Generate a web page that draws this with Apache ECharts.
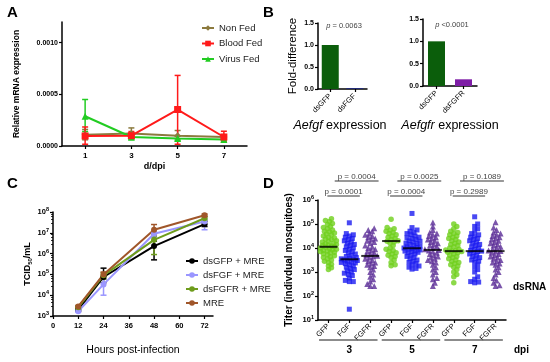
<!DOCTYPE html>
<html><head><meta charset="utf-8">
<script src="https://cdn.jsdelivr.net/npm/echarts@6/dist/echarts.min.js"></script>
<style>html,body{margin:0;padding:0;background:#fff}#c{width:550px;height:362px}</style>
</head><body><div id="c"></div>
<script>
const FONT = '"Liberation Sans", Arial, sans-serif';

// ---------- Panel A data ----------
const aDays = [1, 3, 5, 7];
const aDayTicks = [1, 3, 5, 7];
const aYTicks = [0, 0.0005, 0.0010];
const aNonFed   = [0.000110, 0.000120, 0.000100, 0.000087];
const aNonFedLo = [0.000060, 0.000080, 0.000070, 0.000070];
const aNonFedHi = [0.000160, 0.000175, 0.000150, 0.000110];
const aBlood    = [0.000097, 0.000100, 0.000353, 0.000087];
const aBloodLo  = [0.000017, 0.000080, 0.000017, 0.000040];
const aBloodHi  = [0.000184, 0.000140, 0.000683, 0.000143];
const aVirus    = [0.000288, 0.000087, 0.000072, 0.000062];
const aVirusLo  = [0.000140, 0.000060, 0.000055, 0.000052];
const aVirusHi  = [0.000450, 0.000110, 0.000095, 0.000075];

// ---------- Panel B data ----------
const b1Cats = ['dsGFP', 'dsFGF'];
const b1Vals = [1.0, 0.02];
const b2Cats = ['dsGFP', 'dsFGFR'];
const b2Vals = [1.0, 0.15];
const b1P = '0.0063';
const b2P = '<0.0001';

// ---------- Panel C data ----------
const cHours = [12, 24, 48, 72];
const cHourTicks = [0, 12, 24, 36, 48, 60, 72];
const cGFP    = [2.0e3, 7.5e4, 2.3e6, 2.6e7];
const cGFPLo  = [1.7e3, 4.0e4, 5.0e5, 2.0e7];
const cGFPHi  = [2.4e3, 2.0e5, 4.0e6, 3.5e7];
const cFGF    = [1.7e3, 3.3e4, 9.0e6, 3.5e7];
const cFGFLo  = [1.5e3, 1.0e4, 6.0e6, 1.4e7];
const cFGFHi  = [1.9e3, 6.0e4, 1.2e7, 4.5e7];
const cFGFR   = [2.6e3, 9.0e4, 4.6e6, 5.0e7];
const cFGFRLo = [2.3e3, 6.0e4, 9.0e5, 4.0e7];
const cFGFRHi = [2.9e3, 1.2e5, 7.0e6, 6.0e7];
const cMRE    = [2.9e3, 1.0e5, 1.4e7, 7.0e7];
const cMRELo  = [2.6e3, 8.0e4, 8.0e6, 6.0e7];
const cMREHi  = [3.2e3, 1.3e5, 2.5e7, 8.0e7];

// ---------- Panel D data (log10 titer per mosquito) ----------
const dCats = ['GFP', 'FGF', 'FGFR', 'GFP', 'FGF', 'FGFR', 'GFP', 'FGF', 'FGFR'];
const dDpi = ['3', '5', '7'];
const dGFP3 = [5.22,5.15,5.1,5.02,4.98,4.9,4.85,4.8,4.75,4.7,4.68,4.62,4.58,4.55,4.5,4.45,4.42,4.38,4.35,4.3,4.28,4.25,4.2,4.18,4.15,4.12,4.1,4.08,4.05,4.03,4.0,3.98,3.95,3.93,3.9,3.88,3.85,3.82,3.8,3.76,3.72,3.68,3.64,3.6,3.55,3.5,3.45,3.4,3.32,3.25,3.18,3.1];
const dFGF3 = [5.05,4.6,4.55,4.5,4.45,4.4,4.35,4.3,4.25,4.2,4.15,4.1,4.05,4.0,3.95,3.9,3.85,3.8,3.75,3.7,3.65,3.6,3.58,3.55,3.53,3.5,3.48,3.45,3.42,3.4,3.38,3.35,3.3,3.25,3.2,3.15,3.1,3.05,3.0,2.95,2.9,2.85,2.75,2.65,2.6,2.6,1.45];
const dFGFR3 = [4.82,4.75,4.7,4.6,4.55,4.5,4.45,4.4,4.35,4.3,4.25,4.2,4.1,4.05,4.0,3.95,3.9,3.85,3.8,3.75,3.7,3.68,3.65,3.6,3.55,3.5,3.45,3.4,3.35,3.3,3.25,3.2,3.1,3.0,2.9,2.8,2.7,2.6,2.5,2.42,2.42];
const dGFP5 = [5.2,4.85,4.8,4.75,4.7,4.65,4.6,4.55,4.5,4.45,4.4,4.35,4.3,4.28,4.25,4.2,4.1,4.0,3.95,3.9,3.85,3.8,3.75,3.7,3.65,3.6,3.5,3.4,3.3,3.26];
const dFGF5 = [5.44,4.85,4.75,4.7,4.65,4.6,4.55,4.5,4.45,4.42,4.4,4.35,4.3,4.28,4.25,4.2,4.18,4.15,4.1,4.08,4.05,4.02,4.0,3.98,3.95,3.92,3.9,3.87,3.85,3.82,3.8,3.75,3.7,3.65,3.6,3.55,3.5,3.45,3.4,3.35,3.3,3.25,3.2,3.15,3.12];
const dFGFR5 = [5.06,4.9,4.75,4.65,4.6,4.55,4.5,4.45,4.4,4.35,4.3,4.25,4.2,4.15,4.1,4.05,4.0,3.95,3.92,3.9,3.85,3.8,3.75,3.7,3.65,3.6,3.55,3.5,3.45,3.4,3.3,3.2,3.1,3.0,2.9,2.75,2.7,2.55,2.42];
const dGFP7 = [5.0,4.9,4.8,4.7,4.65,4.6,4.55,4.5,4.45,4.4,4.35,4.3,4.25,4.2,4.15,4.1,4.05,4.0,3.95,3.92,3.9,3.87,3.85,3.82,3.8,3.75,3.7,3.65,3.6,3.55,3.5,3.45,3.4,3.35,3.3,3.25,3.2,3.1,3.0,2.9,2.8,2.55];
const dFGF7 = [5.3,5.0,4.9,4.8,4.7,4.6,4.55,4.5,4.45,4.4,4.35,4.3,4.25,4.2,4.15,4.1,4.05,4.0,3.95,3.9,3.87,3.85,3.8,3.75,3.7,3.65,3.6,3.55,3.5,3.45,3.4,3.3,3.2,3.1,3.0,2.8,2.7,2.6,2.58,2.55];
const dFGFR7 = [5.07,4.85,4.75,4.65,4.6,4.55,4.5,4.45,4.4,4.35,4.3,4.25,4.2,4.15,4.1,4.05,4.0,3.95,3.9,3.87,3.85,3.8,3.75,3.7,3.65,3.6,3.55,3.5,3.45,3.4,3.35,3.3,3.2,3.1,3.0,2.9,2.75,2.65,2.55,2.45,2.42];
const dMedians = [4.05, 3.53, 3.67, 4.29, 3.99, 3.92, 3.87, 3.87, 3.87];
const dPLower = ['0.0001', '0.0004', '0.2989'];
const dPUpper = ['0.0004', '0.0025', '0.1089'];

// ---------- styling helpers ----------
function axisBase(extra) {
  const base = {
    axisLine: {show: true, onZero: false, lineStyle: {color: '#000', width: 1.5}},
    axisTick: {show: true, length: 3, lineStyle: {color: '#000', width: 1.2}},
    splitLine: {show: false},
    axisLabel: {color: '#000', fontFamily: FONT, fontWeight: 'bold', fontSize: 7.5, margin: 4},
    nameTextStyle: {color: '#000', fontFamily: FONT, fontWeight: 'bold', fontSize: 9}
  };
  for (const k in extra) {
    if (base[k] && typeof base[k] === 'object' && typeof extra[k] === 'object' && !Array.isArray(extra[k])) {
      base[k] = Object.assign({}, base[k], extra[k]);
    } else base[k] = extra[k];
  }
  return base;
}
function logLabel(v) {
  const e = Math.round(Math.log10(v));
  return '{b|10}{s|' + e + '}';
}
const logRich = {b: {fontFamily: FONT, fontWeight: 'bold', fontSize: 7.5, color: '#000'},
                 s: {fontFamily: FONT, fontWeight: 'bold', fontSize: 5.5, color: '#000', padding: [0, 0, 5, 0]}};

function errRender(capHalf) {
  return function (params, api) {
    const x = api.value(0), lo = api.value(1), hi = api.value(2);
    const top = api.coord([x, hi]), bot = api.coord([x, lo]);
    const st = {stroke: api.visual('color'), lineWidth: 1.5};
    return {type: 'group', children: [
      {type: 'line', shape: {x1: top[0], y1: top[1], x2: bot[0], y2: bot[1]}, style: st},
      {type: 'line', shape: {x1: top[0] - capHalf, y1: top[1], x2: top[0] + capHalf, y2: top[1]}, style: st},
      {type: 'line', shape: {x1: bot[0] - capHalf, y1: bot[1], x2: bot[0] + capHalf, y2: bot[1]}, style: st}
    ]};
  };
}
function errSeries(name, xs, lo, hi, color, xi, yi, cap) {
  return {type: 'custom', name: name, xAxisIndex: xi, yAxisIndex: yi, z: 1, silent: true,
    itemStyle: {color: color}, renderItem: errRender(cap), encode: {x: 0, y: [1, 2]},
    data: xs.map((x, i) => [x, lo[i], hi[i]])};
}
function lineSeries(name, xs, ys, color, symbol, size, xi, yi) {
  return {type: 'line', name: name, xAxisIndex: xi, yAxisIndex: yi, z: 3,
    symbol: symbol, symbolSize: size, showSymbol: true,
    lineStyle: {color: color, width: 2}, itemStyle: {color: color},
    data: xs.map((x, i) => [x, ys[i]])};
}

// simple beeswarm layout: horizontal offsets (in category units) for a column of log values
function swarm(logVals, ci) {
  const pxDec = 24, pxCat = 20.9, minD = 3.3, maxOff = 8.5;
  const placed = [];
  const sorted = logVals.slice().sort((a, b) => a - b);
  for (const v of sorted) {
    const y = v * pxDec;
    let chosen = null, bestOff = 0, bestScore = -1;
    for (let k = 0; k < 40; k++) {
      const off = k === 0 ? 0 : (k % 2 ? 1 : -1) * Math.ceil(k / 2) * 1.0;
      if (Math.abs(off) > maxOff) break;
      let md = Infinity;
      for (const p of placed) { const d = Math.hypot(p.x - off, p.y - y); if (d < md) md = d; }
      if (md >= minD) { chosen = off; break; }
      if (md > bestScore) { bestScore = md; bestOff = off; }
    }
    if (chosen === null) chosen = bestOff;
    placed.push({x: chosen, y: y, v: v});
  }
  return placed.map(p => [ci + p.x / pxCat, Math.pow(10, p.v)]);
}

const dCols = [dGFP3, dFGF3, dFGFR3, dGFP5, dFGF5, dFGFR5, dGFP7, dFGF7, dFGFR7];
const greenPts = [].concat(swarm(dCols[0], 0), swarm(dCols[3], 3), swarm(dCols[6], 6));
const bluePts = [].concat(swarm(dCols[1], 1), swarm(dCols[4], 4), swarm(dCols[7], 7));
const purplePts = [].concat(swarm(dCols[2], 2), swarm(dCols[5], 5), swarm(dCols[8], 8));

const cNonFed = '#8c7a3e', cBlood = '#ff1a1a', cVirus = '#22cc22';
const cBlack = '#000000', cLav = '#9a96ff', cOlive = '#6e9c1c', cBrown = '#a0562a';
const dGreen = '#6fd01c', dBlue = '#1c1cf0', dPurple = '#5a2c96';

const option = {
  animation: false,
  backgroundColor: '#fff',
  textStyle: {fontFamily: FONT},
  grid: [
    {left: 62, top: 22, width: 185, height: 124},
    {left: 318, top: 23, width: 49, height: 66},
    {left: 423, top: 19, width: 54, height: 67},
    {left: 53, top: 212, width: 160, height: 104},
    {left: 318, top: 200, width: 188, height: 120}
  ],
  legend: [
    {data: ['Non Fed', 'Blood Fed', 'Virus Fed'], orient: 'vertical', left: 201, top: 23,
     itemWidth: 12, itemHeight: 7, itemGap: 5.5, padding: 0,
     textStyle: {fontSize: 9.5, fontFamily: FONT, color: '#222'}},
    {data: ['dsGFP + MRE', 'dsFGF + MRE', 'dsFGFR + MRE', 'MRE'], orient: 'vertical', left: 185, top: 256,
     itemWidth: 12, itemHeight: 7, itemGap: 4, padding: 0,
     textStyle: {fontSize: 9.5, fontFamily: FONT, color: '#222'}}
  ],
  xAxis: [
    axisBase({gridIndex: 0, type: 'value', min: 0, max: 8,
      name: 'd/dpi', nameLocation: 'middle', nameGap: 16,
      axisTick: {customValues: aDayTicks, length: 3},
      axisLabel: {customValues: aDayTicks, margin: 6, fontSize: 8}}),
    axisBase({gridIndex: 1, type: 'category', data: b1Cats,
      axisTick: {alignWithLabel: true},
      axisLabel: {rotate: 45, fontWeight: 'normal', fontSize: 7.5, margin: 6}}),
    axisBase({gridIndex: 2, type: 'category', data: b2Cats,
      axisTick: {alignWithLabel: true},
      axisLabel: {rotate: 45, fontWeight: 'normal', fontSize: 7.5, margin: 6}}),
    axisBase({gridIndex: 3, type: 'value', min: 0, max: 76,
      name: 'Hours post-infection', nameLocation: 'middle', nameGap: 29,
      nameTextStyle: {fontWeight: 'normal', fontSize: 10.5},
      axisTick: {customValues: cHourTicks},
      axisLabel: {customValues: cHourTicks, margin: 6, fontSize: 7.5}}),
    axisBase({gridIndex: 4, type: 'category', data: dCats,
      axisTick: {alignWithLabel: true},
      axisLabel: {rotate: 45, fontWeight: 'normal', fontSize: 7.5, margin: 5}}),
    {gridIndex: 4, type: 'value', min: -0.5, max: 8.5, show: false}
  ],
  yAxis: [
    axisBase({gridIndex: 0, type: 'value', min: 0, max: 0.0012,
      name: 'Relative mRNA expression', nameLocation: 'middle', nameGap: 41,
      nameTextStyle: {fontSize: 8.5},
      axisTick: {customValues: aYTicks},
      axisLabel: {customValues: aYTicks, fontSize: 7, formatter: v => v.toFixed(4)}}),
    axisBase({gridIndex: 1, type: 'value', min: 0, max: 1.5, interval: 0.5,
      name: 'Fold-difference', nameLocation: 'middle', nameGap: 19,
      nameTextStyle: {fontWeight: 'normal', fontSize: 11.5},
      axisLabel: {fontSize: 7, formatter: v => v.toFixed(1)}}),
    axisBase({gridIndex: 2, type: 'value', min: 0, max: 1.5, interval: 0.5,
      axisLabel: {fontSize: 7, formatter: v => v.toFixed(1)}}),
    axisBase({gridIndex: 3, type: 'log', logBase: 10, min: 1e3, max: 1e8, splitNumber: 5,
      name: 'TCID{sub|50}/mL', nameLocation: 'middle', nameGap: 20,
      nameTextStyle: {fontSize: 9, rich: {sub: {fontSize: 6, fontWeight: 'bold', fontFamily: FONT, padding: [5, 0, 0, 0]}}},
      minorTick: {show: true, splitNumber: 5, length: 2, lineStyle: {color: '#000', width: 0.8}},
      axisLabel: {formatter: logLabel, rich: logRich}}),
    axisBase({gridIndex: 4, type: 'log', logBase: 10, min: 1e1, max: 1e6, splitNumber: 5,
      name: 'Titer (indivdual mosquitoes)', nameLocation: 'middle', nameGap: 24,
      nameTextStyle: {fontSize: 10},
      axisLabel: {formatter: logLabel, rich: logRich}})
  ],
  series: [
    // Panel A
    errSeries('errNF', aDays, aNonFedLo, aNonFedHi, cNonFed, 0, 0, 3),
    errSeries('errVF', aDays, aVirusLo, aVirusHi, cVirus, 0, 0, 3),
    errSeries('errBF', aDays, aBloodLo, aBloodHi, cBlood, 0, 0, 3),
    lineSeries('Non Fed', aDays, aNonFed, cNonFed, 'diamond', 7, 0, 0),
    lineSeries('Virus Fed', aDays, aVirus, cVirus, 'triangle', 7, 0, 0),
    lineSeries('Blood Fed', aDays, aBlood, cBlood, 'rect', 7, 0, 0),
    // Panel B
    {type: 'bar', xAxisIndex: 1, yAxisIndex: 1, barWidth: 17,
     data: b1Vals.map((v, i) => ({value: v, itemStyle: {color: ['#0b5e0b', '#1f2a80'][i]}}))},
    {type: 'bar', xAxisIndex: 2, yAxisIndex: 2, barWidth: 17,
     data: b2Vals.map((v, i) => ({value: v, itemStyle: {color: ['#0b5e0b', '#7e1ea6'][i]}}))},
    // Panel C
    errSeries('e1', cHours, cGFPLo, cGFPHi, cBlack, 3, 3, 3),
    errSeries('e2', cHours, cFGFLo, cFGFHi, cLav, 3, 3, 3),
    errSeries('e3', cHours, cFGFRLo, cFGFRHi, cOlive, 3, 3, 3),
    errSeries('e4', cHours, cMRELo, cMREHi, cBrown, 3, 3, 3),
    lineSeries('dsGFP + MRE', cHours, cGFP, cBlack, 'circle', 6, 3, 3),
    lineSeries('dsFGF + MRE', cHours, cFGF, cLav, 'circle', 6, 3, 3),
    lineSeries('dsFGFR + MRE', cHours, cFGFR, cOlive, 'circle', 6, 3, 3),
    lineSeries('MRE', cHours, cMRE, cBrown, 'circle', 6, 3, 3),
    // Panel D
    {type: 'scatter', xAxisIndex: 5, yAxisIndex: 4, symbol: 'circle', symbolSize: 5.5,
     itemStyle: {color: dGreen}, data: greenPts},
    {type: 'scatter', xAxisIndex: 5, yAxisIndex: 4, symbol: 'rect', symbolSize: 5,
     itemStyle: {color: dBlue}, data: bluePts},
    {type: 'scatter', xAxisIndex: 5, yAxisIndex: 4, symbol: 'triangle', symbolSize: 6,
     itemStyle: {color: dPurple}, data: purplePts},
    {type: 'scatter', xAxisIndex: 5, yAxisIndex: 4, symbol: 'rect', symbolSize: [18, 2], z: 5,
     itemStyle: {color: '#000'}, data: dMedians.map((m, i) => [i, Math.pow(10, m)])},
    {type: 'custom', xAxisIndex: 5, yAxisIndex: 4, clip: false, silent: true,
     data: [[0, 1e6], [3, 1e6], [6, 1e6]],
     renderItem: function (params, api) {
       const g = api.value(0), i = params.dataIndex;
       const base = api.coord([g, 1e6]);
       const l1 = api.coord([g - 0.05, 1e6])[0], l2 = api.coord([g + 1.5, 1e6])[0];
       const u1 = api.coord([g + 0.3, 1e6])[0], u2 = api.coord([g + 2.4, 1e6])[0];
       const yL = base[1] - 4, yU = base[1] - 19;
       const ls = {stroke: '#777', lineWidth: 1.5};
       const ts = (t) => ({text: t, fill: '#444', fontSize: 8, fontFamily: FONT, align: 'center', verticalAlign: 'bottom'});
       return {type: 'group', children: [
         {type: 'line', shape: {x1: l1, y1: yL, x2: l2, y2: yL}, style: ls},
         {type: 'line', shape: {x1: u1, y1: yU, x2: u2, y2: yU}, style: ls},
         {type: 'text', x: (l1 + l2) / 2, y: yL - 0.5, style: ts('p = ' + dPLower[i])},
         {type: 'text', x: (u1 + u2) / 2, y: yU - 0.5, style: ts('p = ' + dPUpper[i])}
       ]};
     }},
    {type: 'custom', xAxisIndex: 5, yAxisIndex: 4, clip: false, silent: true,
     data: [[0, 10], [3, 10], [6, 10]],
     renderItem: function (params, api) {
       const g = api.value(0), i = params.dataIndex;
       const a = api.coord([g - 0.45, 10]), b = api.coord([g + 2.35, 10]), c = api.coord([g + 1, 10]);
       return {type: 'group', children: [
         {type: 'line', shape: {x1: a[0], y1: a[1] + 20, x2: b[0], y2: a[1] + 20}, style: {stroke: '#666', lineWidth: 1.5}},
         {type: 'text', x: c[0], y: c[1] + 30, style: {text: dDpi[i], fill: '#000', fontSize: 10, fontWeight: 'bold', fontFamily: FONT, align: 'center', verticalAlign: 'middle'}}
       ]};
     }}
  ],
  graphic: [
    {type: 'text', left: 7, top: 5, style: {text: 'A', font: 'bold 15px ' + FONT, fill: '#000'}},
    {type: 'text', left: 263, top: 5, style: {text: 'B', font: 'bold 15px ' + FONT, fill: '#000'}},
    {type: 'text', left: 7, top: 176, style: {text: 'C', font: 'bold 15px ' + FONT, fill: '#000'}},
    {type: 'text', left: 263, top: 176, style: {text: 'D', font: 'bold 15px ' + FONT, fill: '#000'}},
    {type: 'text', x: 344, y: 26, style: {text: '{i|p} = ' + b1P, fill: '#444', fontSize: 7.5, fontFamily: FONT, align: 'center', verticalAlign: 'middle', rich: {i: {fontStyle: 'italic', fontSize: 7.5, fill: '#444', fontFamily: FONT}}}},
    {type: 'text', x: 452, y: 25, style: {text: '{i|p} ' + b2P, fill: '#444', fontSize: 7.5, fontFamily: FONT, align: 'center', verticalAlign: 'middle', rich: {i: {fontStyle: 'italic', fontSize: 7.5, fill: '#444', fontFamily: FONT}}}},
    {type: 'text', x: 340, y: 126, style: {text: '{i|Aefgf} expression', fill: '#000', fontSize: 12.5, fontFamily: FONT, align: 'center', verticalAlign: 'middle', rich: {i: {fontStyle: 'italic', fontSize: 12.5, fill: '#000', fontFamily: FONT}}}},
    {type: 'text', x: 450, y: 126, style: {text: '{i|Aefgfr} expression', fill: '#000', fontSize: 12.5, fontFamily: FONT, align: 'center', verticalAlign: 'middle', rich: {i: {fontStyle: 'italic', fontSize: 12.5, fill: '#000', fontFamily: FONT}}}},
    {type: 'text', x: 513, y: 287, style: {text: 'dsRNA', fill: '#000', font: 'bold 10px ' + FONT, verticalAlign: 'middle'}},
    {type: 'text', x: 514, y: 350, style: {text: 'dpi', fill: '#000', font: 'bold 10px ' + FONT, verticalAlign: 'middle'}}
  ]
};
const chart = echarts.init(document.getElementById('c'));
chart.setOption(option);
</script>
</body></html>
